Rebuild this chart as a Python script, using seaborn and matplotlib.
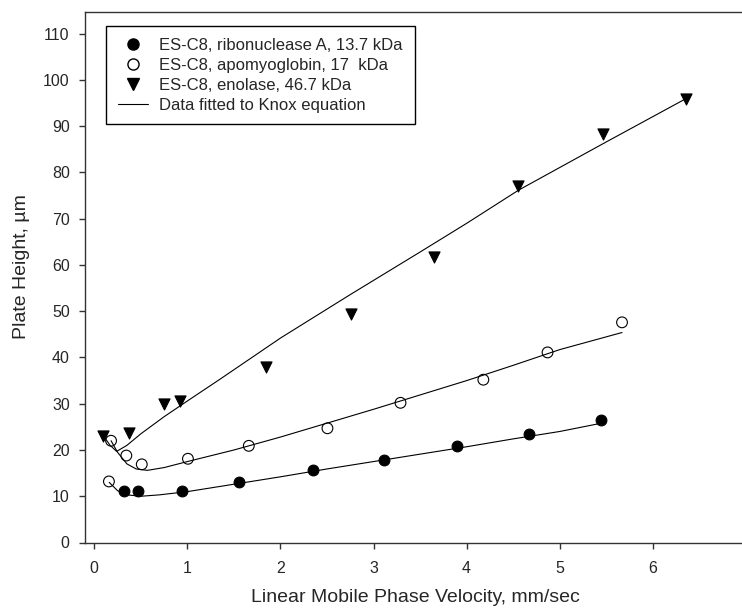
import pandas as pd
import matplotlib.pyplot as plt
import seaborn as sns
from matplotlib.lines import Line2D

# measured points
rib_x = [0.315, 0.47, 0.945, 1.56, 2.345, 3.11, 3.895, 4.67, 5.445]
rib_y = [11.2, 11.2, 11.1, 13.0, 15.7, 17.9, 20.9, 23.5, 26.4]

apo_x = [0.157, 0.18, 0.344, 0.51, 1.006, 1.66, 2.505, 3.29, 4.18, 4.87, 5.67]
apo_y = [13.2, 22.0, 18.8, 16.9, 18.1, 20.9, 24.7, 30.2, 35.2, 41.1, 47.6]

eno_x = [0.093, 0.376, 0.745, 0.924, 1.845, 2.753, 3.655, 4.557, 5.464, 6.36]
eno_y = [23.0, 23.7, 30.0, 30.5, 37.9, 49.5, 61.8, 77.0, 88.3, 95.9]

# Knox fit curves
rib_fit_x = [0.16, 0.25, 0.35, 0.5, 0.7, 1.0, 1.5, 2.0, 2.5, 3.0, 3.5, 4.0, 4.5, 5.0, 5.45]
rib_fit_y = [13.0, 11.2, 10.3, 10.0, 10.3, 11.0, 12.6, 14.2, 15.9, 17.5, 19.1, 20.7, 22.4, 24.0, 25.8]

apo_fit_x = [0.18, 0.25, 0.35, 0.45, 0.57, 0.75, 1.0, 1.5, 2.0, 2.5, 3.0, 3.5, 4.0, 4.5, 5.0, 5.67]
apo_fit_y = [22.0, 19.5, 17.0, 15.9, 15.6, 16.2, 17.5, 20.0, 22.8, 25.8, 28.8, 31.9, 35.0, 38.3, 41.7, 45.4]

eno_fit_x = [0.1, 0.17, 0.24, 0.35, 0.5, 0.75, 1.0, 1.35, 2.0, 2.75, 3.5, 4.0, 4.56, 5.5, 6.36]
eno_fit_y = [23.0, 21.0, 19.7, 21.0, 23.5, 27.2, 30.6, 35.3, 44.2, 53.6, 62.8, 69.0, 76.2, 86.6, 96.0]

labels = ['ES-C8, ribonuclease A, 13.7 kDa',
          'ES-C8, apomyoglobin, 17  kDa',
          'ES-C8, enolase, 46.7 kDa',
          'Data fitted to Knox equation']

sns.set_style('ticks')
plt.rcParams['font.family'] = ['Liberation Sans', 'DejaVu Sans']

fig = plt.figure(figsize=(7.42, 6.09), dpi=100)
ax = fig.add_axes([85 / 742, 66.5 / 609, 660.8 / 742, 530.5 / 609])

for fx, fy in [(rib_fit_x, rib_fit_y), (apo_fit_x, apo_fit_y), (eno_fit_x, eno_fit_y)]:
    fit = pd.DataFrame({'x': fx, 'y': fy})
    sns.lineplot(data=fit, x='x', y='y', sort=False, color='black', linewidth=0.8, ax=ax, zorder=2)

sns.scatterplot(x=rib_x, y=rib_y, marker='o', s=60, color='black', edgecolor='black',
                linewidth=0.8, ax=ax, zorder=3)
sns.scatterplot(x=apo_x, y=apo_y, marker='o', s=60, facecolors='none', edgecolor='black',
                linewidth=0.8, ax=ax, zorder=3)
sns.scatterplot(x=eno_x, y=eno_y, marker='v', s=64, color='black', edgecolor='black',
                linewidth=0.8, ax=ax, zorder=3)

ax.set_xlim(-0.1, 7.0)
ax.set_ylim(0, 114.7)
ax.set_xticks(range(0, 8))
ax.set_yticks(range(0, 111, 10))
ax.tick_params(labelsize=11.5, length=4, width=1, color='#333333')
ax.tick_params(axis='x', pad=9)
ax.tick_params(axis='y', pad=7)
for sp in ax.spines.values():
    sp.set_linewidth(1)
    sp.set_color('#333333')

ax.set_xlabel('Linear Mobile Phase Velocity, mm/sec', fontsize=14)
ax.set_ylabel('Plate Height, \u00b5m', fontsize=14)
ax.xaxis.set_label_coords(0.5, -0.088)
ax.yaxis.set_label_coords(-0.083, 0.521)

handles = [
    Line2D([], [], marker='o', ls='none', color='black', markersize=8),
    Line2D([], [], marker='o', ls='none', markerfacecolor='none', markeredgecolor='black', markersize=8),
    Line2D([], [], marker='v', ls='none', color='black', markersize=8),
    Line2D([], [], color='black', linewidth=0.8),
]
leg = ax.legend(handles, labels, loc='upper left', bbox_to_anchor=(106 / 742, 1 - 26 / 609),
                bbox_transform=fig.transFigure, borderaxespad=0, fontsize=12,
                frameon=True, fancybox=False, framealpha=1, edgecolor='black',
                handlelength=1.8, handletextpad=0.7, labelspacing=0.3, borderpad=0.7)
leg.get_frame().set_linewidth(1)

fig.savefig('out.png', dpi=100)
